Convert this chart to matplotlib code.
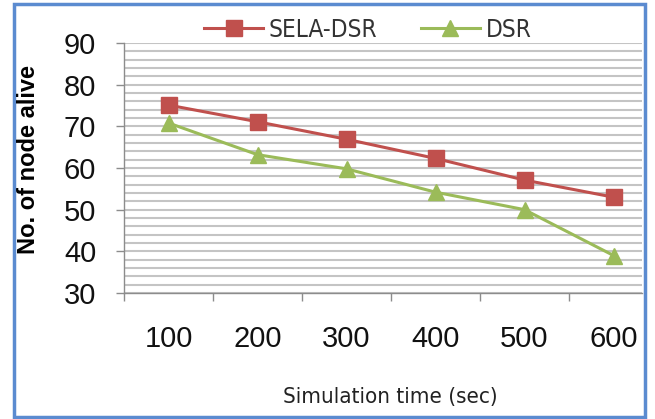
import matplotlib
matplotlib.use("Agg")
import matplotlib.pyplot as plt
from matplotlib.patches import Rectangle
from matplotlib.ticker import MultipleLocator, FixedLocator
import matplotlib.font_manager as fm

categories = ["100", "200", "300", "400", "500", "600"]
sela_dsr = [75.1, 71.1, 66.9, 62.3, 57.1, 53.0]
dsr = [70.8, 63.2, 59.8, 54.2, 50.0, 39.0]

main = "Liberation Sans"
cond_path = fm.findfont(fm.FontProperties(family="DejaVu Sans", stretch="condensed"))
if "Condensed" in cond_path:
    narrow_prop = dict(family="DejaVu Sans", stretch="condensed")
    xl_size, lg_size = 16, 17.5
else:
    narrow_prop = dict(family="Roboto")
    xl_size, lg_size = 15, 17

fig = plt.figure(figsize=(6.55, 4.19), dpi=100)
ax = fig.add_axes([124/655, 1-293/419, (642-124)/655, (293-43)/419])

x = list(range(len(categories)))
red = "#C0504D"
green = "#9BBB59"
ax.plot(x, sela_dsr, color=red, lw=2.2, marker="s", ms=11.5, label="SELA-DSR", zorder=3)
ax.plot(x, dsr, color=green, lw=2.2, marker="^", ms=12, label="DSR", zorder=3)

ax.set_ylim(30, 90)
ax.set_xlim(-0.5, 5.32)
ax.yaxis.set_major_locator(MultipleLocator(10))
ax.yaxis.set_minor_locator(MultipleLocator(2))
ax.grid(axis="y", which="both", color="#C4C4C4", lw=1.5)
ax.set_axisbelow(True)

ax.set_xticks(x)
ax.set_xticklabels(categories)
ax.xaxis.set_minor_locator(FixedLocator([i - 0.5 for i in x]))
ax.tick_params(axis="x", which="major", length=0, pad=23, labelsize=21)
ax.tick_params(axis="x", which="minor", length=6, width=1, color="#8C8C8C", direction="out")
ax.tick_params(axis="y", which="major", length=6, width=1, color="#8C8C8C", pad=14, labelsize=21)
ax.tick_params(axis="y", which="minor", length=0)
for lab in ax.get_xticklabels() + ax.get_yticklabels():
    lab.set_fontfamily(main)
    lab.set_color("#111111")

for s in ["top", "right"]:
    ax.spines[s].set_visible(False)
for s in ["left", "bottom"]:
    ax.spines[s].set_color("#8C8C8C")
    ax.spines[s].set_linewidth(1)

fig.text(29/655, 1-160/419, "No. of node alive", rotation=90, ha="center", va="center",
         fontsize=17, fontweight="bold", family=main)
fig.text(390/655, 1-397/419, "Simulation time (sec)", ha="center", va="center",
         fontsize=xl_size, color="#222222", **narrow_prop)

leg = fig.legend(loc="center", bbox_to_anchor=(368/655, 1-30/419), ncol=2, frameon=False,
                 handlelength=2.4, columnspacing=1.8, handletextpad=0.25,
                 prop=dict(size=lg_size, **narrow_prop))
for t in leg.get_texts():
    t.set_color("#333333")

fig.patches.append(Rectangle((14/655, 2/419), (645-14)/655, (415-2)/419, transform=fig.transFigure,
                             fill=False, edgecolor="#5B8BD0", lw=2.5))

fig.savefig("out.png", dpi=100)
